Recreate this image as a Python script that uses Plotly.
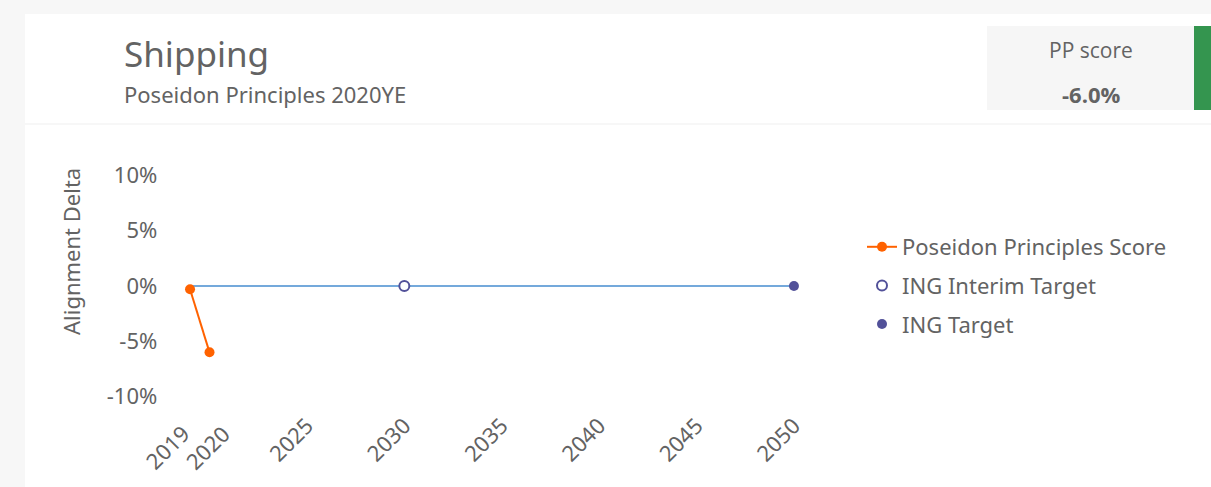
import plotly.graph_objects as go

# data
pp_years = [2019, 2020]
pp_scores = [-0.003, -0.06]
baseline_years = [2019, 2050]
baseline_values = [0, 0]
interim_years = [2030]
interim_values = [0]
target_years = [2050]
target_values = [0]
x_ticks = [2019, 2020, 2025, 2030, 2035, 2040, 2045, 2050]
y_ticks = [-0.10, -0.05, 0, 0.05, 0.10]
y_tick_labels = ["-10%", "-5%", "0%", "5%", "10%"]

W, H = 1211, 487
FONT = "Noto Sans"
GREY = "#636363"


def px_x(p):
  return p / W


def px_y(p):
  return 1 - p / H


fig = go.Figure()

fig.add_trace(go.Scatter(x=baseline_years, y=baseline_values, mode="lines",
                         line=dict(color="#74a9db", width=2), showlegend=False, hoverinfo="skip"))
fig.add_trace(go.Scatter(x=pp_years, y=pp_scores, mode="lines+markers", name="Poseidon Principles Score",
                         legendgroup="a", line=dict(color="#ff6200", width=2),
                         marker=dict(size=10, color="#ff6200")))
fig.add_trace(go.Scatter(x=interim_years, y=interim_values, mode="markers", name="ING Interim Target",
                         legendgroup="b",
                         marker=dict(size=10, color="white", line=dict(color="#525199", width=2))))
fig.add_trace(go.Scatter(x=target_years, y=target_values, mode="markers", name="ING Target",
                         legendgroup="c", marker=dict(size=10, color="#525199")))

# background cards
shapes = [
  dict(type="rect", xref="paper", yref="paper", x0=px_x(25), x1=1, y0=px_y(123), y1=px_y(14),
       fillcolor="white", line=dict(width=0), layer="below"),
  dict(type="rect", xref="paper", yref="paper", x0=px_x(25), x1=1, y0=0, y1=px_y(125),
       fillcolor="white", line=dict(width=0), layer="below"),
  dict(type="rect", xref="paper", yref="paper", x0=px_x(987), x1=px_x(1194), y0=px_y(110), y1=px_y(26),
       fillcolor="#f6f6f6", line=dict(width=0), layer="below"),
  dict(type="rect", xref="paper", yref="paper", x0=px_x(1194), x1=1, y0=px_y(110), y1=px_y(26),
       fillcolor="#34954f", line=dict(width=0), layer="below"),
]

annotations = [
  dict(text="Shipping", x=px_x(122), y=px_y(54), xanchor="left", yanchor="middle",
       font=dict(family=FONT, size=35, color=GREY)),
  dict(text="Poseidon Principles 2020YE", x=px_x(122), y=px_y(94), xanchor="left", yanchor="middle",
       font=dict(family=FONT, size=22, color=GREY)),
  dict(text="PP score", x=px_x(1091), y=px_y(50), xanchor="center", yanchor="middle",
       font=dict(family="Open Sans", size=21, color=GREY)),
  dict(text="<b>-6.0%</b>", x=px_x(1091), y=px_y(94), xanchor="center", yanchor="middle",
       font=dict(family="Open Sans", size=22, color=GREY)),
  dict(text="Alignment Delta", x=px_x(71), y=px_y(252), xanchor="center", yanchor="middle", textangle=-90,
       font=dict(family=FONT, size=22, color=GREY)),
]
for a in annotations:
  a.update(xref="paper", yref="paper", showarrow=False)

# the first two year labels are nudged apart so they do not overlap
x_tick_text = ["" if v in pp_years else str(v) for v in x_ticks]
for year, shift in zip(pp_years, [8, 29]):
  annotations.append(dict(text=str(year), x=year, xref="x", y=px_y(416), yref="paper",
                          xanchor="right", yanchor="top", xshift=shift, textangle=-45, showarrow=False,
                          font=dict(family=FONT, size=22, color=GREY)))

fig.update_layout(
  width=W, height=H,
  margin=dict(l=0, r=0, t=0, b=0, pad=0),
  paper_bgcolor="#f7f7f7",
  plot_bgcolor="rgba(0,0,0,0)",
  shapes=shapes,
  annotations=annotations,
  xaxis=dict(domain=[px_x(180.3), px_x(803.7)], range=[2018.5, 2050.5], tickvals=x_ticks,
             ticktext=x_tick_text, tickangle=-45, showgrid=False, zeroline=False, showline=False,
             automargin=False, tickfont=dict(family=FONT, size=22, color=GREY)),
  yaxis=dict(domain=[px_y(407.6), px_y(164.4)], range=[-0.11, 0.11], tickvals=y_ticks,
             ticktext=y_tick_labels, showgrid=False, zeroline=False, showline=False, automargin=False,
             tickfont=dict(family=FONT, size=22, color=GREY), ticklabelstandoff=22),
  legend=dict(x=px_x(862), y=px_y(226), xanchor="left", yanchor="top", bgcolor="rgba(0,0,0,0)",
              font=dict(family=FONT, size=22, color=GREY), tracegroupgap=7),
  showlegend=True,
)

fig.write_html("out.html", config={"displayModeBar": False},
               post_script="document.body.style.margin='0';")
